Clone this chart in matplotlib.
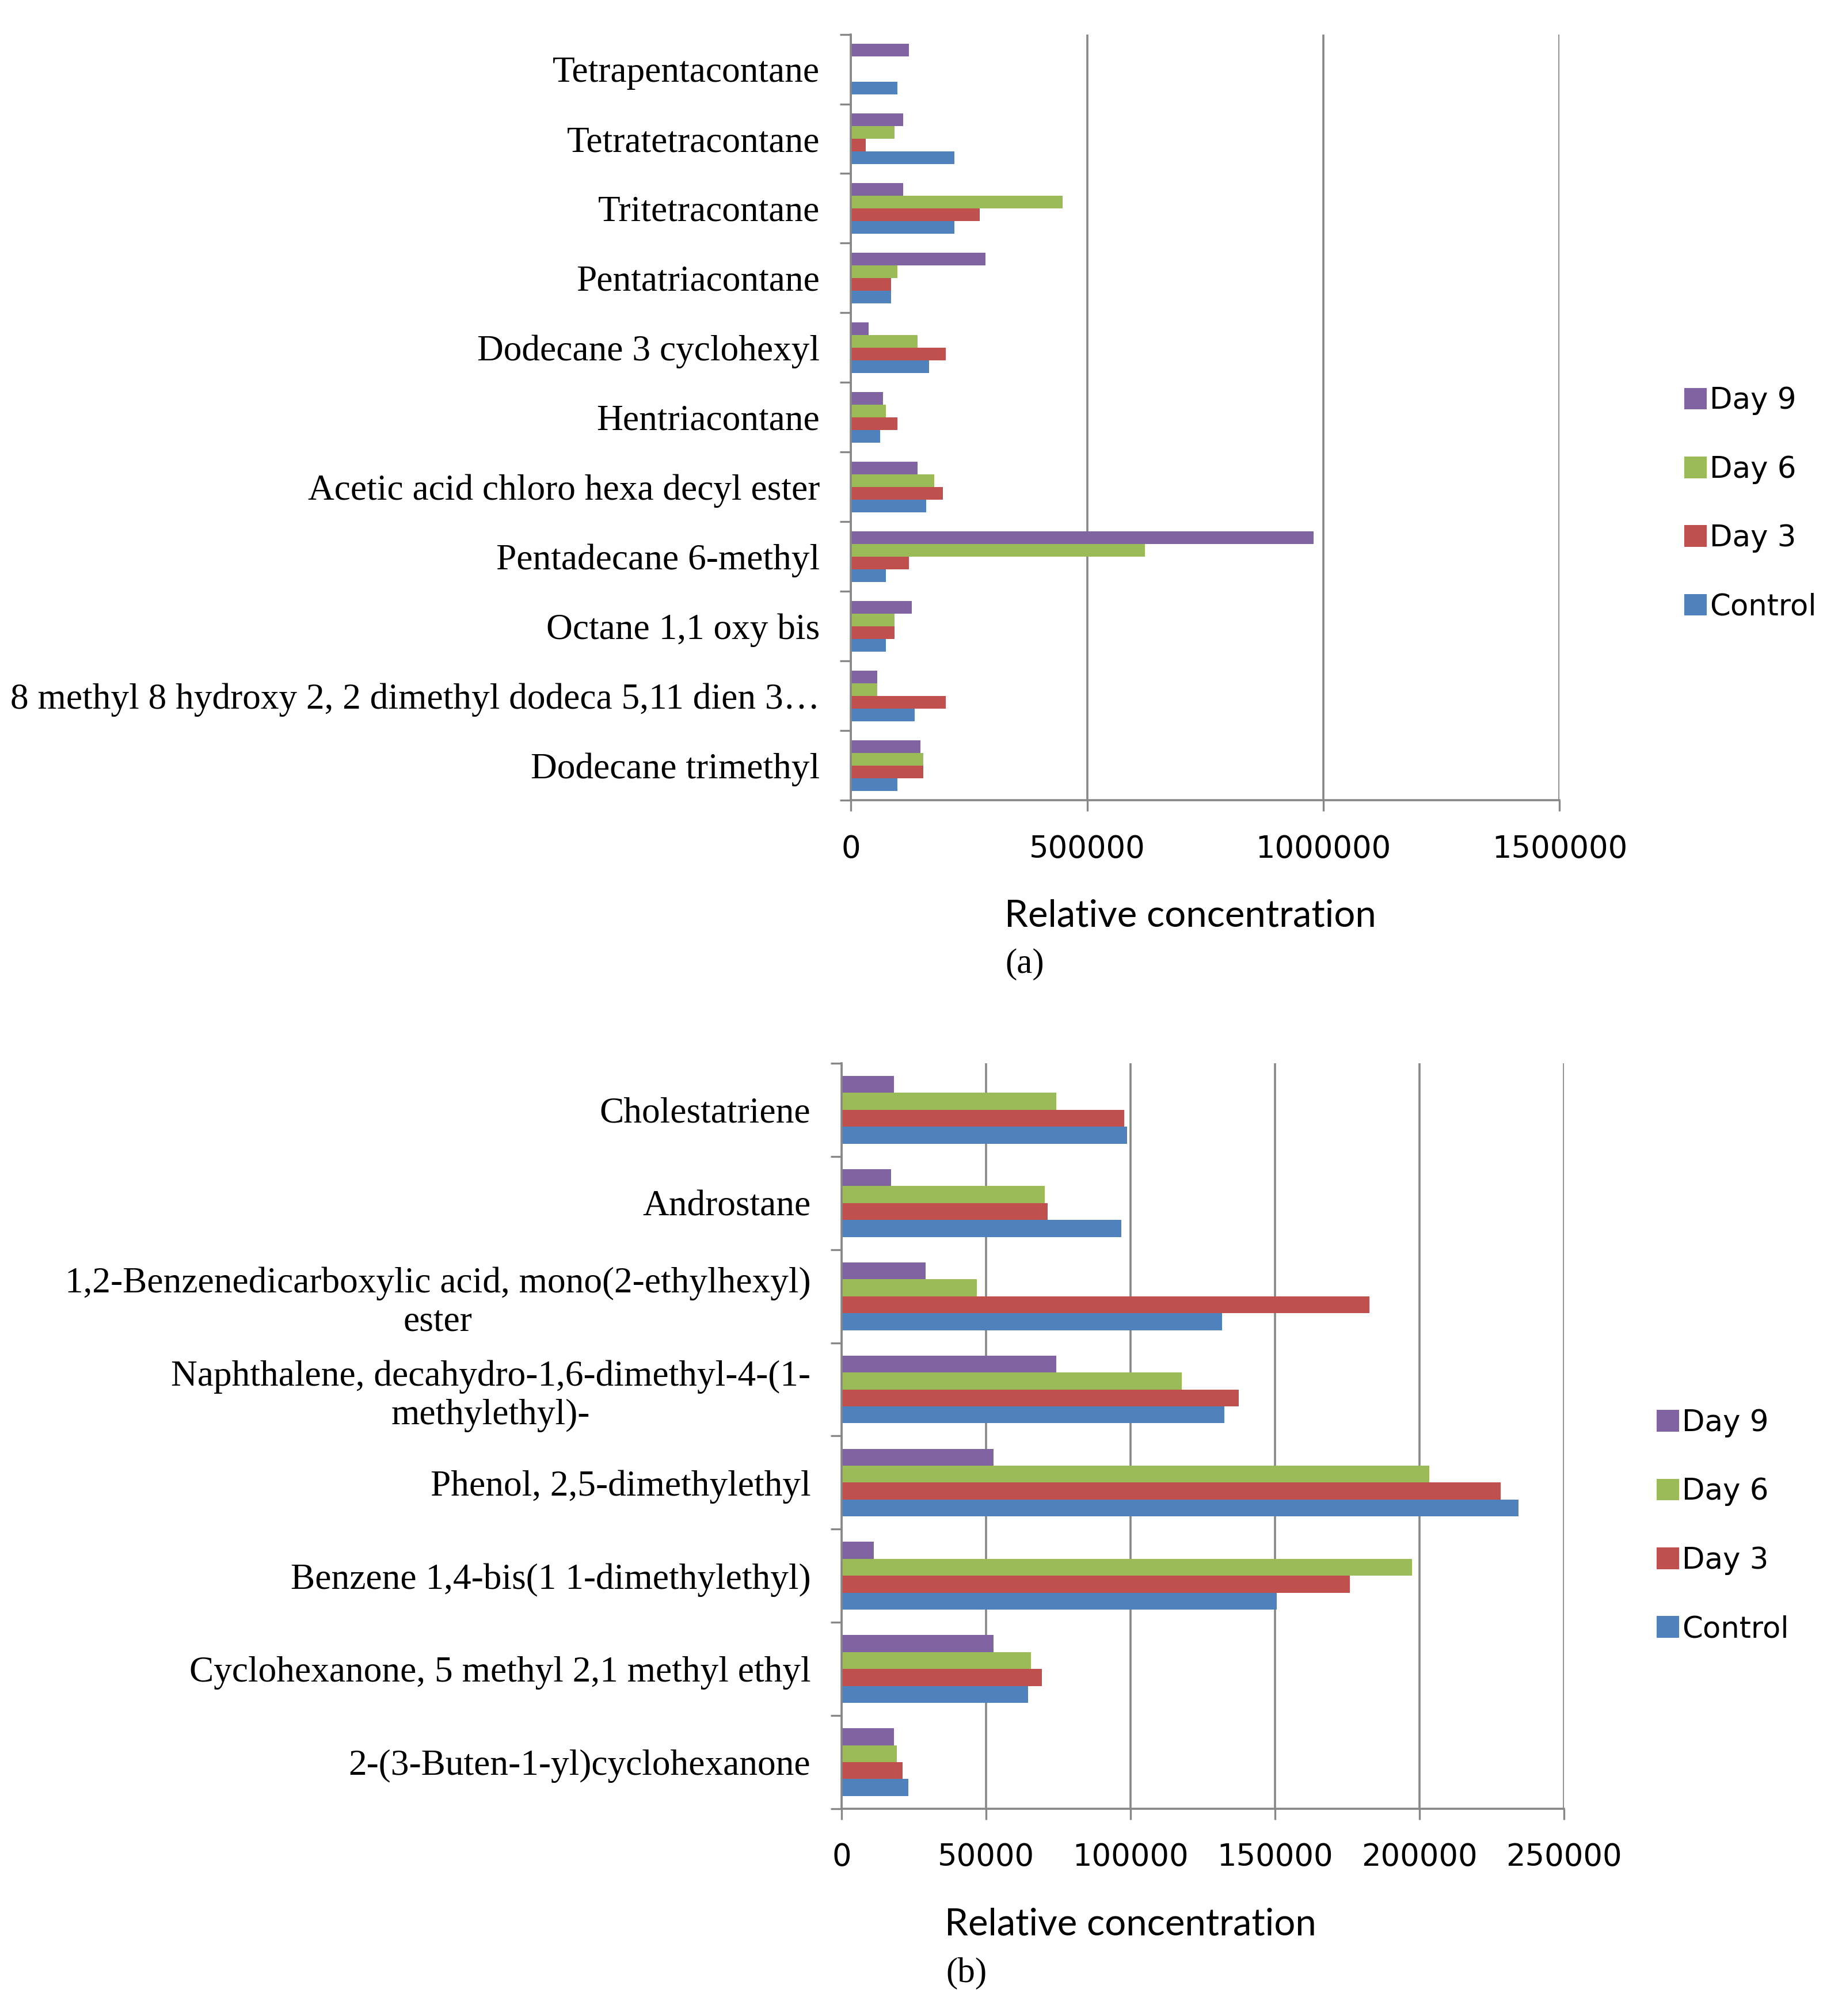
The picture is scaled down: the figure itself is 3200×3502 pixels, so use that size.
import numpy as np
import matplotlib
matplotlib.use("Agg")
import matplotlib.pyplot as plt
from matplotlib.ticker import FixedLocator

# ================= DATA =================
series = ["Control", "Day 3", "Day 6", "Day 9"]
colors = ["#4F81BD", "#C0504D", "#9BBB59", "#8064A2"]

# chart (a), listed bottom to top
cats_a = ["Dodecane trimethyl",
          "8 methyl 8 hydroxy 2, 2 dimethyl dodeca 5,11 dien 3…",
          "Octane 1,1 oxy bis",
          "Pentadecane 6-methyl",
          "Acetic acid chloro hexa decyl ester",
          "Hentriacontane",
          "Dodecane 3 cyclohexyl",
          "Pentatriacontane",
          "Tritetracontane",
          "Tetratetracontane",
          "Tetrapentacontane"]
control_a = [98000, 135000, 74000, 74000, 159000, 62000, 165000, 85000, 219000, 219000, 98000]
day3_a = [153000, 200000, 92000, 122000, 194000, 98000, 200000, 85000, 273000, 31000, 0]
day6_a = [153000, 56000, 92000, 622000, 176000, 74000, 141000, 98000, 448000, 92000, 0]
day9_a = [147000, 56000, 129000, 979000, 141000, 68000, 37000, 285000, 110000, 110000, 122500]
xticks_a = [0, 500000, 1000000, 1500000]

# chart (b), listed bottom to top
cats_b = ["2-(3-Buten-1-yl)cyclohexanone",
          "Cyclohexanone, 5 methyl 2,1 methyl ethyl",
          "Benzene 1,4-bis(1 1-dimethylethyl)",
          "Phenol, 2,5-dimethylethyl",
          "Naphthalene, decahydro-1,6-dimethyl-4-(1-\nmethylethyl)-",
          "1,2-Benzenedicarboxylic acid, mono(2-ethylhexyl)\nester",
          "Androstane",
          "Cholestatriene"]
control_b = [23000, 64400, 150600, 234200, 132400, 131600, 96800, 98800]
day3_b = [21000, 69300, 175900, 228200, 137400, 182700, 71300, 97800]
day6_b = [19000, 65400, 197400, 203400, 117700, 46700, 70300, 74300]
day9_b = [18000, 52600, 11100, 52600, 74300, 29000, 17000, 18000]
xticks_b = [0, 50000, 100000, 150000, 200000, 250000]

GRID = "#878787"
SERIF = "Liberation Serif"
SANS = "DejaVu Sans"

fig = plt.figure(figsize=(16, 17.51), dpi=200)


def draw_chart(ax, cats, vals, xticks, legend_xy, xlabel_xy):
    n = len(cats)
    y = np.arange(n)
    bw = 1 / 5.5
    handles = []
    for i, (v, c, name) in enumerate(zip(vals, colors, series)):
        off = (i - 1.5) * bw
        h = ax.barh(y + off, v, height=bw, color=c, label=name, zorder=3)
        handles.append(h)

    ax.set_ylim(-0.5, n - 0.5)
    ax.set_xlim(xticks[0], xticks[-1])
    ax.set_xticks(xticks)
    ax.set_xticklabels([str(t) for t in xticks], fontsize=19, family=SANS)
    ax.set_yticks(y)
    ax.set_yticklabels(cats, fontsize=22.8, family=SERIF)
    for lab in ax.get_yticklabels():
        lab.set_multialignment("center")
    ax.yaxis.set_minor_locator(FixedLocator(np.arange(-0.5, n, 1)))
    ax.tick_params(axis="y", which="major", length=0, pad=19.5)
    ax.tick_params(axis="y", which="minor", length=7, width=1.2, color=GRID)
    ax.tick_params(axis="x", length=7, width=1.2, color=GRID, pad=14)

    ax.grid(axis="x", color=GRID, linewidth=1.3, zorder=0)
    for s in ["top", "right"]:
        ax.spines[s].set_visible(False)
    for s in ["left", "bottom"]:
        ax.spines[s].set_color(GRID)
        ax.spines[s].set_linewidth(1.3)
    ax.spines["left"].set_zorder(4)

    ax.set_xlabel("Relative concentration", fontsize=23.5, family="Lato")
    ax.xaxis.set_label_coords(*xlabel_xy)
    ax.xaxis.label.set_va("center")

    fig.legend(handles[::-1], series[::-1], loc="center left",
               bbox_to_anchor=legend_xy, frameon=False,
               prop={"family": SANS, "size": 18.5},
               handlelength=0.75, handleheight=0.75, handletextpad=0.1,
               labelspacing=1.35)


ax1 = fig.add_axes([0.462, 0.603, 0.3847, 0.380])
draw_chart(ax1, cats_a, [control_a, day3_a, day6_a, day9_a], xticks_a,
           (0.900, 0.750), (0.479, -0.151))
fig.text(1780 / 3200, 1 - 1675 / 3502, "(a)", ha="center", va="center",
         fontsize=22, family=SERIF)

ax2 = fig.add_axes([0.457, 0.1028, 0.392, 0.3698])
draw_chart(ax2, cats_b, [control_b, day3_b, day6_b, day9_b], xticks_b,
           (0.885, 0.243), (0.40, -0.155))
fig.text(1679 / 3200, 1 - 3428 / 3502, "(b)", ha="center", va="center",
         fontsize=22, family=SERIF)

fig.savefig("out.png", dpi=200, facecolor="white")
